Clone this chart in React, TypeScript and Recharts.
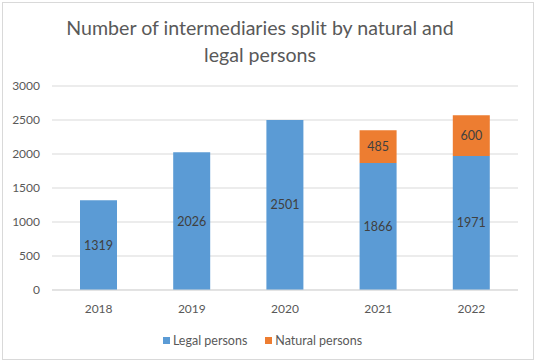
import React from 'react';
import { BarChart, Bar, XAxis, YAxis, CartesianGrid, Legend, LabelList } from 'recharts';

const years = ['2018', '2019', '2020', '2021', '2022'];
const legalPersons = [1319, 2026, 2501, 1866, 1971];
const naturalPersons = [0, 0, 0, 485, 600];
const yTicks = [0, 500, 1000, 1500, 2000, 2500, 3000];

const data = years.map((year, i) => ({
  year,
  legal: legalPersons[i],
  natural: naturalPersons[i],
}));

const font = 'Lato, "Open Sans", sans-serif';
const textColor = '#595959';

const renderLabel = (props: any) => {
  const { x, y, width, height, value } = props;
  if (!value) return null;
  return (
    <text
      x={x + width / 2}
      y={y + height / 2}
      textAnchor="middle"
      dominantBaseline="central"
      fill="#404040"
      fontSize={12.5}
      fontFamily={font}
    >
      {value}
    </text>
  );
};

const renderLegend = () => (
  <div
    style={{
      display: 'flex',
      justifyContent: 'center',
      gap: 18,
      fontFamily: font,
      fontSize: 12.5,
      color: textColor,
      height: 40,
      alignItems: 'center',
    }}
  >
    {[
      { name: 'Legal persons', color: '#5B9BD5' },
      { name: 'Natural persons', color: '#ED7D31' },
    ].map((item) => (
      <div key={item.name} style={{ display: 'flex', alignItems: 'center', gap: 3 }}>
        <span style={{ width: 7, height: 7, background: item.color, display: 'inline-block' }} />
        <span>{item.name}</span>
      </div>
    ))}
  </div>
);

export default function App() {
  return (
    <div style={{ position: 'absolute', left: 0, top: 0, width: 538, height: 364, background: '#fff' }}>
      <div
        style={{
          position: 'absolute',
          left: 2,
          top: 2,
          width: 532,
          height: 358,
          border: '1px solid #D9D9D9',
          boxSizing: 'border-box',
        }}
      />
      <div
        style={{
          position: 'absolute',
          left: -9,
          top: 14,
          width: 538,
          textAlign: 'center',
          fontFamily: font,
          fontSize: 19.6,
          lineHeight: '27px',
          color: textColor,
        }}
      >
        Number of intermediaries split by natural and
        <br />
        legal persons
      </div>
      <div style={{ position: 'absolute', left: 0, top: 0 }}>
        <BarChart
          width={538}
          height={364}
          data={data}
          margin={{ top: 86, right: 20, left: 7, bottom: 4 }}
          barSize={37}
        >
          <CartesianGrid vertical={false} stroke="#D9D9D9" />
          <XAxis
            dataKey="year"
            axisLine={{ stroke: '#D9D9D9' }}
            tickLine={false}
            tickMargin={8}
            height={30}
            tick={{ fill: textColor, fontSize: 12, fontFamily: font }}
          />
          <YAxis
            domain={[0, 3000]}
            ticks={yTicks}
            width={45}
            axisLine={false}
            tickLine={false}
            tickMargin={6}
            tick={{ fill: textColor, fontSize: 12, fontFamily: font }}
          />
          <Legend verticalAlign="bottom" content={renderLegend} />
          <Bar dataKey="legal" name="Legal persons" stackId="a" fill="#5B9BD5" isAnimationActive={false}>
            <LabelList dataKey="legal" content={renderLabel} />
          </Bar>
          <Bar dataKey="natural" name="Natural persons" stackId="a" fill="#ED7D31" isAnimationActive={false}>
            <LabelList dataKey="natural" content={renderLabel} />
          </Bar>
        </BarChart>
      </div>
    </div>
  );
}
